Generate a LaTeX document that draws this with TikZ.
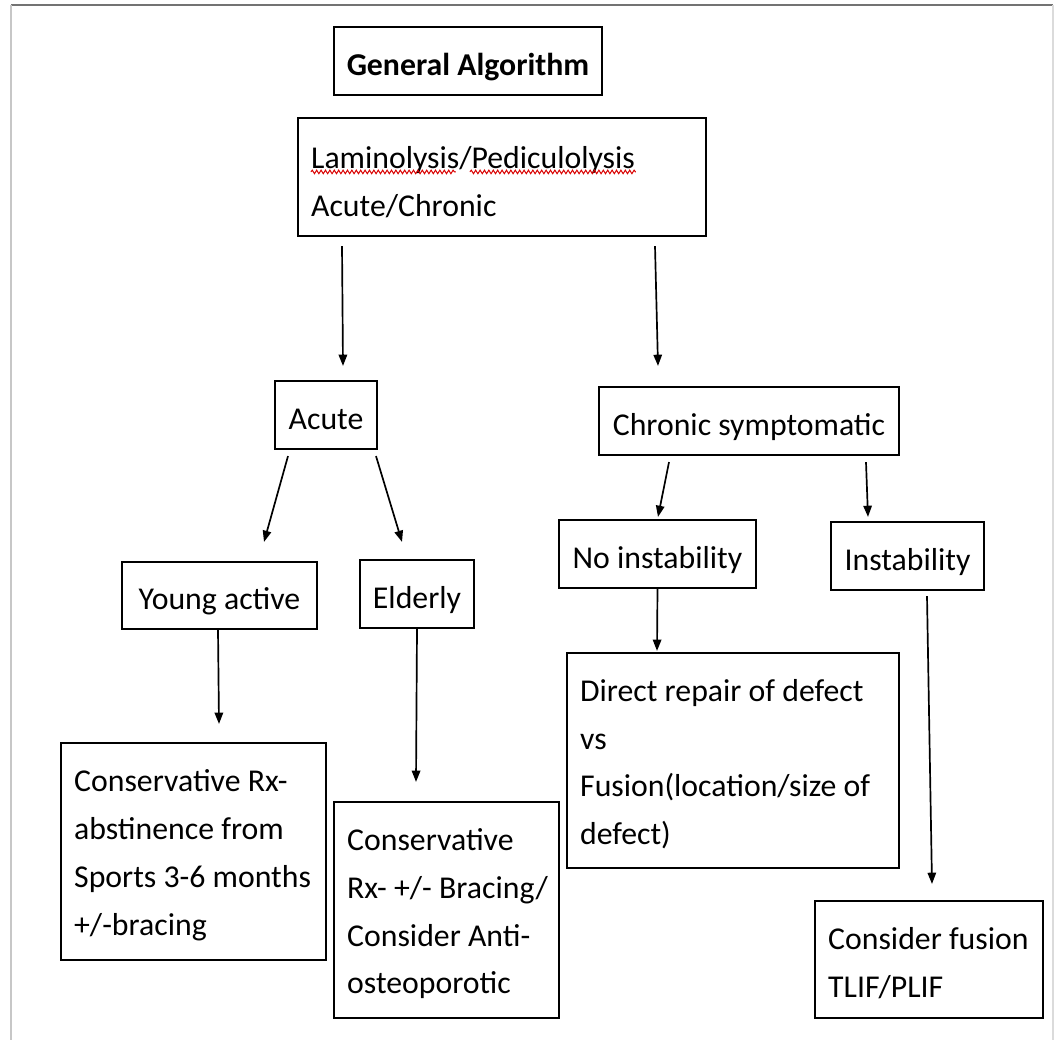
\documentclass[tikz,border=0pt]{standalone}
\usepackage{fontspec}
\setmainfont{Carlito}
\usepackage{tikz}
\usetikzlibrary{arrows.meta,calc,decorations.pathmorphing}

\tikzset{
  box/.style={
    draw,
    shape = rectangle,
    line width = 1.5pt,
    inner sep = 0pt,
    minimum height = 1.7cm,
    text height = 20pt,
    text depth = 0pt,
    font = \fontsize{22.6}{33}\selectfont
  },
  textbox/.style={
    box,
    text height = ,
    text depth = ,
    align = flush left,
    inner xsep = 0.33cm,
    font = \fontsize{22.6}{34}\selectfont,
    execute at begin node = {\rule{0pt}{21pt}}
  },
  arr/.style={
    line width = 1.2pt,
    -{Triangle[length=8pt,width=6pt]}
  },
  frameline/.style={
    line width = 0.8pt
  },
  spell/.style={
    red!85!black,
    line width = 0.7pt,
    decorate,
    decoration={snake,amplitude=.45mm,segment length=1.1mm}
  }
}

\begin{document}
\begin{tikzpicture}[x=0.025cm,y=-0.025cm]
        \useasboundingbox (0,0) rectangle (1058,1040);

        % page frame
        \draw[frameline, line width=1.6pt, black!55] (11,5) -- (1053,5);
        \draw[frameline, black!22] (11,5) -- (11,1040);
        \draw[frameline, black!14] (1053,5) -- (1053,1040);

        % top
        \node[box, font=\fontsize{22.6}{33}\selectfont\bfseries, minimum width=6.7cm] (title) at (468,61) {General Algorithm};
        \node[textbox, execute at begin node={\rule{0pt}{23pt}}, minimum width=10.2cm, minimum height=2.95cm, text width=9.54cm] (lam) at (502,177) {Laminolysis/Pediculolysis\\Acute/Chronic};
        \draw[spell] ($(lam.north west)+(14,55)$) -- ($(lam.north west)+(159,55)$);
        \draw[spell] ($(lam.north west)+(173,55)$) -- ($(lam.north west)+(339,55)$);

        % second row
        \node[box, minimum width=2.55cm] (acute) at (326,415) {Acute};
        \node[box, minimum width=7.5cm] (chronic) at (749,421) {Chronic symptomatic};

        % third row
        \node[box, minimum width=4.875cm, minimum height=1.675cm] (young) at (219.5,595.5) {Young active};
        \node[box, minimum width=2.85cm] (elderly) at (417,594) {Elderly};
        \node[box, minimum width=4.925cm] (noinst) at (657.5,554) {No instability};
        \node[box, minimum width=3.825cm] (inst) at (907.5,556) {Instability};

        % treatment
        \node[textbox, minimum width=6.625cm, minimum height=5.425cm, text width=5.965cm] (consA) at (193.5,851.5) {Conservative Rx-\\abstinence from\\Sports 3-6 months\\+/-bracing};
        \node[textbox, minimum width=5.625cm, minimum height=5.4cm, text width=4.965cm] (consB) at (446.5,910) {Conservative\\\mbox{Rx- +/- Bracing/}\\Consider Anti-\\osteoporotic};
        \node[textbox, minimum width=8.3cm, minimum height=5.375cm, text width=7.64cm] (repair) at (733,760.5) {Direct repair of defect\\vs\\Fusion(location/size of\\defect)};
        \node[textbox, minimum width=5.7cm, minimum height=2.925cm, text width=5.04cm] (fusion) at (929,959.5) {\mbox{Consider fusion}\\TLIF/PLIF};

        % arrows
        \draw[arr] ($(lam.south)+(-160,9)$) -- ($(acute.north)+(17,-14)$);
        \draw[arr] ($(lam.south)+(153,9)$) -- ($(chronic.north)+(-91,-20)$);
        \draw[arr] ($(acute.south)+(-38,6)$) -- ($(young.north)+(44.5,-19)$);
        \draw[arr] ($(acute.south)+(50,6)$) -- ($(elderly.north)+(-15,-17)$);
        \draw[arr] ($(chronic.south)+(-80,6)$) -- ($(noinst.north)+(0.5,-2)$);
        \draw[arr] ($(chronic.south)+(117,6)$) -- ($(inst.north)+(-39.5,-4)$);
        \draw[arr] ($(young.south)+(-1.5,0)$) -- ($(consA.north)+(25.5,-18)$);
        \draw[arr] (elderly.south) -- ($(consB.north)+(-30.5,-19)$);
        \draw[arr] (noinst.south) -- ($(repair.north)+(-76,-1)$);
        \draw[arr] ($(inst.south)+(19.5,5)$) -- ($(fusion.north)+(3,-16)$);
\end{tikzpicture}
\end{document}
